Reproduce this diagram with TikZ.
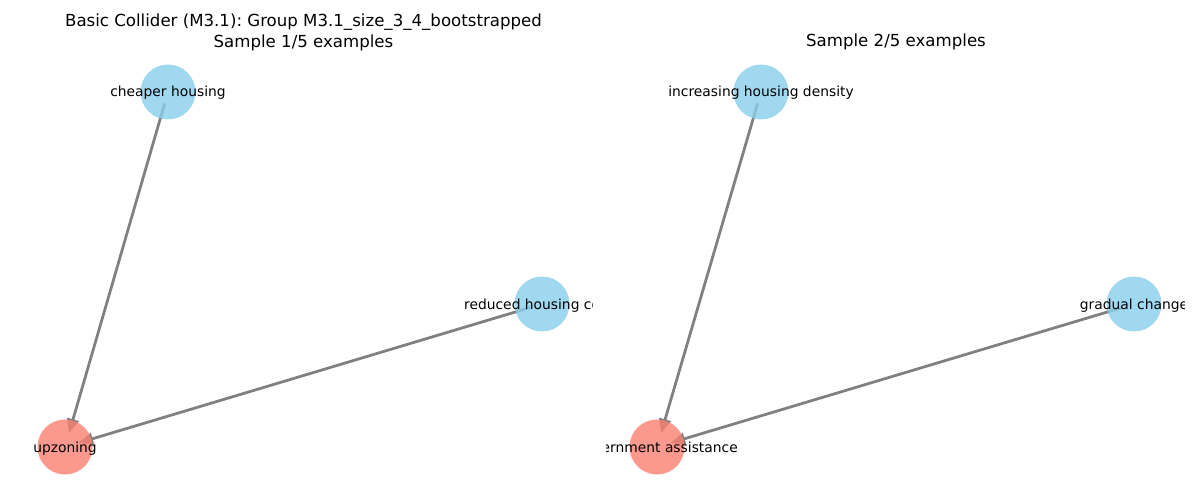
\documentclass[tikz,border=0pt]{standalone}
\usepackage{fontspec}
\setmainfont{DejaVu Sans}
\frenchspacing
\usetikzlibrary{arrows.meta,backgrounds}
\definecolor{causeblue}{RGB}{135,206,235}
\definecolor{effectred}{RGB}{250,128,114}
\definecolor{edgegrey}{RGB}{128,128,128}
\begin{document}
\begin{tikzpicture}[x=0.72bp,y=-0.72bp,
  varnode/.style={circle, inner sep=0pt, minimum size=39.6bp, draw=none, fill opacity=0.8},
  causenode/.style={varnode, fill=causeblue},
  effectnode/.style={varnode, fill=effectred},
  nodetext/.style={font=\fontsize{10}{12}\selectfont, inner sep=0pt, text height=8.6bp, text depth=1.4bp},
  link/.style={draw=edgegrey, line width=2pt, line cap=butt,
    -{Triangle[length=10.5bp,width=8.5bp]}, shorten <=8.6bp, shorten >=10.2bp},
  titletext/.style={font=\fontsize{12}{15bp}\selectfont, align=center, inner sep=0pt}]
\useasboundingbox (0,0) rectangle (1200,500);

% titles
\node[titletext, anchor=north] (titleL) at (303.5,14) {Basic Collider (M3.1): Group M3.1\_size\_3\_4\_bootstrapped\\Sample 1/5 examples};
\node[titletext, text height=9bp, text depth=2.6bp] (titleR) at (896,42) {Sample 2/5 examples};

% first sample
\begin{scope}
  \clip (15.4,55) rectangle (592.7,495);
  \node[causenode] (a1) at (168,92) {};
  \node[causenode] (b1) at (542,304) {};
  \node[effectnode] (c1) at (65,447) {};
  \node[nodetext] (ta1) at (a1.center) {cheaper housing};
  \node[nodetext] (tb1) at (b1.center) {reduced housing costs};
  \node[nodetext] (tc1) at (c1.center) {upzoning};
\end{scope}
\begin{scope}[on background layer]
  \draw[link] (a1.center) -- (c1.center);
  \draw[link] (b1.center) -- (c1.center);
\end{scope}

% second sample
\begin{scope}
  \clip (606.7,55) rectangle (1184,495);
  \node[causenode] (a2) at (761,92) {};
  \node[causenode] (b2) at (1134,304) {};
  \node[effectnode] (c2) at (657,447) {};
  \node[nodetext] (ta2) at (a2.center) {increasing housing density};
  \node[nodetext] (tb2) at (b2.center) {gradual change};
  \node[nodetext] (tc2) at (c2.center) {government assistance};
\end{scope}
\begin{scope}[on background layer]
  \draw[link] (a2.center) -- (c2.center);
  \draw[link] (b2.center) -- (c2.center);
\end{scope}
\end{tikzpicture}
\end{document}
